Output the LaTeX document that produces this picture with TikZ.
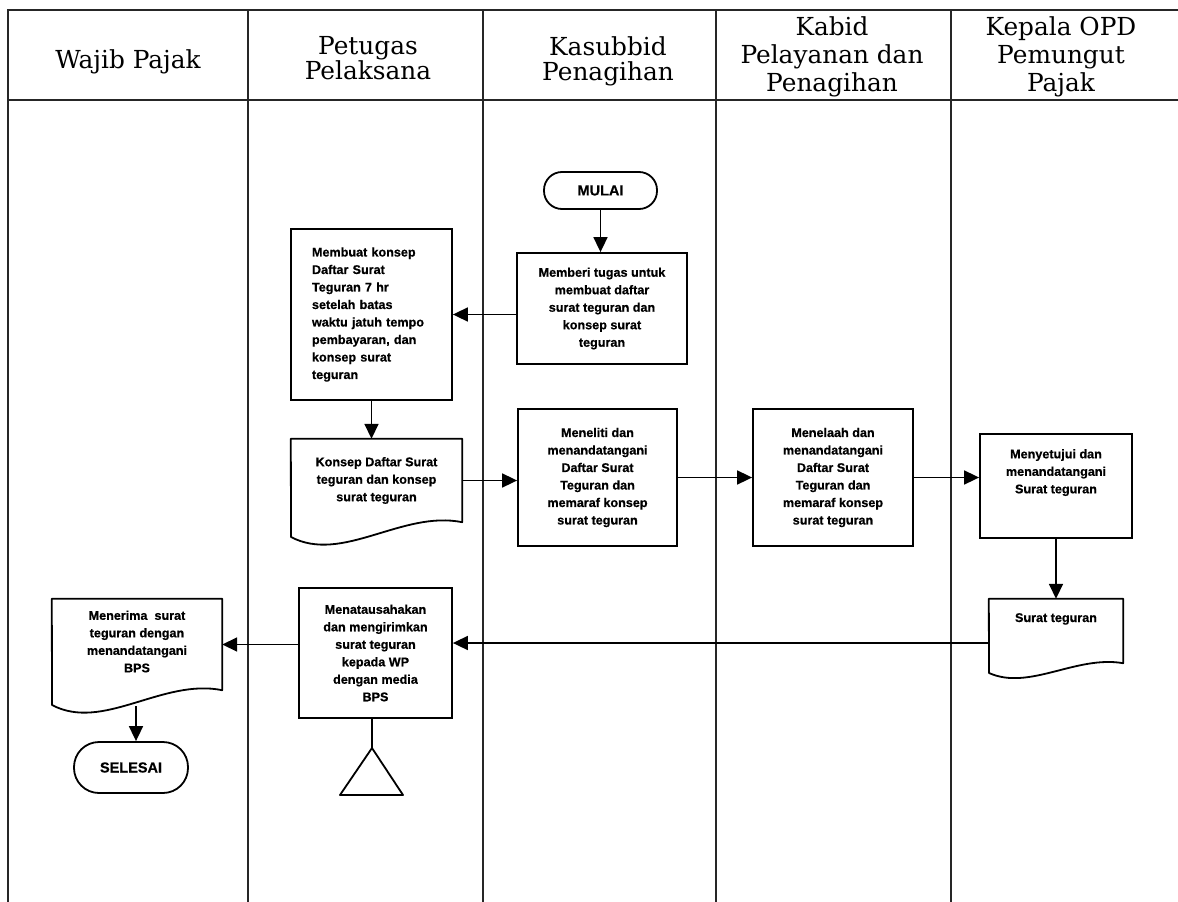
\documentclass[tikz,border=0pt]{standalone}
\usepackage{fontspec}
\setmainfont{Liberation Sans}
\newfontfamily\headfont{DejaVu Serif}
\newfontface\boxfont{Liberation Sans Bold}[FakeBold=0.6]
\usetikzlibrary{arrows.meta,calc}
\begin{document}
\begin{tikzpicture}[x=1pt,y=-1pt,
  lane/.style={line width=1.3pt, draw=black!85},
  box/.style={draw, line width=1.8pt, rectangle, inner sep=0pt, align=center,
    font=\boxfont\fontsize{12.6}{17.5}\selectfont},
  frame/.style={draw=none, rectangle, inner sep=0pt, align=center,
    font=\boxfont\fontsize{12.6}{17.5}\selectfont},
  txt/.style={inner sep=0pt, align=center, font=\boxfont\fontsize{12.6}{17.5}\selectfont},
  docline/.style={line width=1.8pt, line join=round},
  head/.style={inner sep=0pt, align=center},
  term/.style={draw, line width=1.8pt, inner sep=0pt, font=\boxfont\fontsize{14.5}{17}\selectfont},
  arr/.style={line width=1.7pt, -{Triangle[length=15pt,width=14pt]}},
  conn/.style={line width=1.6pt},
]
\useasboundingbox (0,0) rectangle (1178,902);
\fill[white] (0,0) rectangle (1178,902);

% swimlane table
\draw[lane] (1178,10) -- (8,10) -- (8,902);
\draw[lane] (8,100) -- (1178,100);
\foreach \xx in {248,483,716,951} \draw[lane] (\xx,10) -- (\xx,902);

% headers
\node[head, font=\headfont\fontsize{24.8}{25}\selectfont] (h1) at (128,61.5) {Wajib Pajak};
\node[head, font=\headfont\fontsize{24.8}{25}\selectfont] (h2) at (368,58) {Petugas\\Pelaksana};
\node[head, font=\headfont\fontsize{24.8}{25}\selectfont] (h3) at (608,61) {Kasubbid\\Penagihan};
\node[head, font=\headfont\fontsize{24.8}{28}\selectfont] (h4) at (832,57) {Kabid\\Pelayanan dan\\Penagihan};
\node[head, font=\headfont\fontsize{24.8}{28}\selectfont] (h5) at (1061,57) {Kepala OPD\\Pemungut\\Pajak};

% terminators
\node[term, minimum width=113pt, minimum height=37pt, rounded corners=18pt] (mulai) at (600.5,190.5) {MULAI};
\node[term, minimum width=114pt, minimum height=51pt, rounded corners=25pt] (selesai) at (131,767.5) {SELESAI};

% process boxes
\node[box, minimum width=170pt, minimum height=111pt] (memberi) at (602,308.5)
  {Memberi tugas untuk\\membuat daftar\\surat teguran dan\\konsep surat\\teguran};
\node[box, minimum height=171pt, text width=119pt, align=left, inner xsep=21pt] (membuat) at (371.5,314.5)
  {Membuat konsep\\Daftar Surat\\Teguran 7 hr\\setelah batas\\waktu jatuh tempo\\pembayaran, dan\\konsep surat\\teguran};
\node[box, minimum width=159pt, minimum height=137pt] (meneliti) at (597.5,477.5)
  {Meneliti dan\\menandatangani\\Daftar Surat\\Teguran dan\\memaraf konsep\\surat teguran};
\node[box, minimum width=160pt, minimum height=137pt] (menelaah) at (833,477.5)
  {Menelaah dan\\menandatangani\\Daftar Surat\\Teguran dan\\memaraf konsep\\surat teguran};
\node[box, minimum width=152pt, minimum height=104pt] (menyetujui) at (1056,486) {};
\node[txt, anchor=north] (menyetujuiT) at (1056,449) {Menyetujui dan\\menandatangani\\Surat teguran};
\node[box, minimum width=153pt, minimum height=130pt] (menat) at (375.5,653)
  {Menatausahakan\\dan mengirimkan\\surat teguran\\kepada WP\\dengan media\\BPS};

% documents
\node[frame, minimum width=171pt, minimum height=83pt] (konsep) at (376.5,480.5)
  {Konsep Daftar Surat\\teguran dan konsep\\surat teguran};
\draw[docline] (konsep.north west) -- (konsep.north east) -- (konsep.south east)
  .. controls (402.2,510) and (342.3,564) .. (291,537) -- cycle;

\node[frame, minimum width=134pt, minimum height=64pt] (sur) at (1056,631) {};
\node[txt, anchor=north] (surT) at (1056,613) {Surat teguran};
\draw[docline] (sur.north west) -- (sur.north east) -- (sur.south east)
  .. controls (1076.1,655) and (1029.2,691) .. (989,673) -- cycle;

\node[frame, minimum width=170pt, minimum height=91pt, text depth=6pt] (menerima) at (137,644.5)
  {Menerima\ \ surat\\teguran dengan\\menandatangani\\BPS};
\draw[docline] (menerima.north west) -- (menerima.north east) -- (menerima.south east)
  .. controls (162.5,678) and (103,732) .. (52,705) -- cycle;

% off-page connector (triangle)
\coordinate (tri) at (372,748);
\draw[docline] (tri) -- (340,795) -- (403,795) -- cycle;

% connectors
\draw[arr] (mulai.south) -- (mulai.south |- memberi.north);
\draw[arr] (memberi.west |- membuat.east) -- (membuat.east);
\draw[arr] (membuat.south) -- (membuat.south |- konsep.north);
\draw[arr] (konsep.east) -- (konsep.east -| meneliti.west);
\draw[arr] (meneliti.east) -- (menelaah.west);
\draw[arr] (menelaah.east) -- (menelaah.east -| menyetujui.west);
\draw[arr] (menyetujui.south) -- (menyetujui.south |- sur.north);
\coordinate (surL) at (989,643);
\draw[arr] (surL) -- (surL -| menat.east);
\draw[arr] (menerima.east -| menat.west) -- (menerima.east);
\coordinate (menB) at (136,706);
\draw[arr] (menB) -- (menB |- selesai.north);
\draw[conn] (tri |- menat.south) -- (tri);
\end{tikzpicture}
\end{document}
